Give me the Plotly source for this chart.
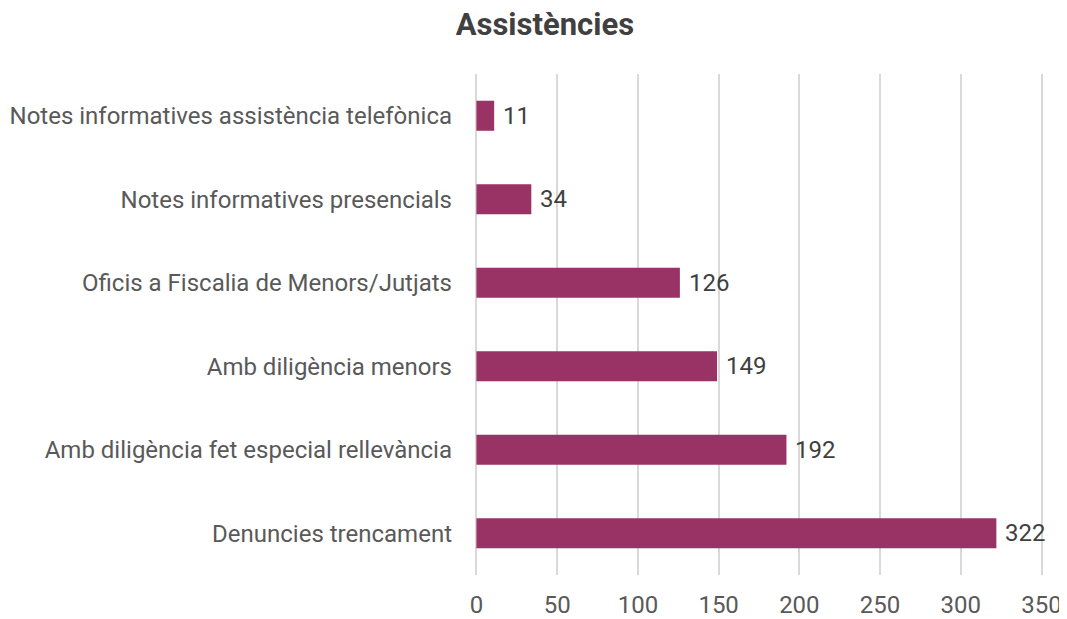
import plotly.graph_objects as go

categories = [
    "Denuncies trencament",
    "Amb diligència fet especial rellevància",
    "Amb diligència menors",
    "Oficis a Fiscalia de Menors/Jutjats",
    "Notes informatives presencials",
    "Notes informatives assistència telefònica",
]
values = [322, 192, 149, 126, 34, 11]
tick_vals = [0, 50, 100, 150, 200, 250, 300, 350]

fig = go.Figure(go.Bar(
    x=values, y=categories, orientation="h",
    marker=dict(color="#993366", line=dict(width=0)),
    width=0.36, hoverinfo="x+y",
))

for v, c in zip(values, categories):
    fig.add_annotation(x=v, y=c, text=str(v), showarrow=False, xanchor="left", yanchor="middle",
                       xshift=7, font=dict(family="Roboto", size=24, color="#404040"))

# plot area: x=0 at page px 476, x=350 at page px 1042 (figure is offset 8px by page margin)
fig.update_layout(
    width=1059, height=611,
    paper_bgcolor="white", plot_bgcolor="white",
    margin=dict(l=466, r=23, t=66, b=44, autoexpand=False),
    title=dict(text="<b>Assistències</b>", x=0.507, xanchor="center", y=0.973, yanchor="middle",
               font=dict(family="Roboto", size=31, color="#404040")),
    showlegend=False,
    font=dict(family="Roboto", size=24, color="#595959"),
)
fig.update_xaxes(range=[-1.5, 351.5], tickvals=tick_vals, showgrid=True, gridcolor="#d9d9d9", gridwidth=2,
                 zeroline=False, showline=False, ticks="", ticklabelstandoff=13,
                 tickfont=dict(family="Roboto", size=24, color="#595959"))
fig.update_yaxes(showgrid=False, zeroline=False, showline=False, ticks="", ticklabelstandoff=21,
                 tickfont=dict(family="Roboto", size=24, color="#595959"))

fig.write_html("out.html")
